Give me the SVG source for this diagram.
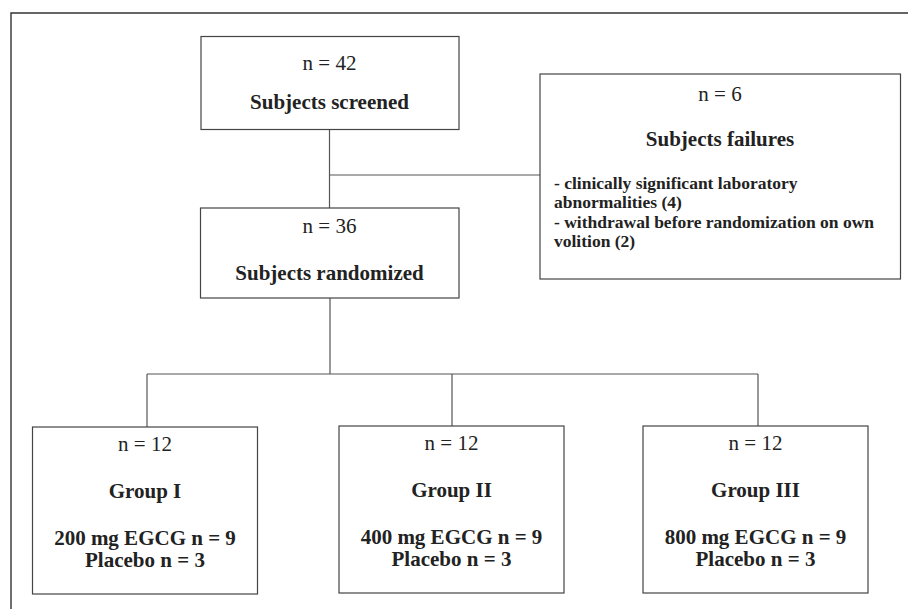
<svg xmlns="http://www.w3.org/2000/svg" width="908" height="609" viewBox="0 0 908 609">
<style>
.box{fill:#fff;stroke:#444;stroke-width:1.2}
.ln{fill:none;stroke:#555;stroke-width:1.2}
.t{font-family:"Liberation Serif","Times New Roman",serif;fill:#222;text-anchor:middle}
.n{font-size:21px}
.b{font-size:21px;font-weight:bold}
.s{font-size:17.5px;font-weight:bold;text-anchor:start}
</style>
<rect width="908" height="609" fill="#fff"/>
<path d="M11 609 V13 H908" fill="none" stroke="#333" stroke-width="1.4"/>
<g id="connectors">
<path class="ln" d="M329.5 129.5 V208"/>
<path class="ln" d="M329.5 175 H540"/>
<path class="ln" d="M330 298 V374"/>
<path class="ln" d="M147 374 H758"/>
<path class="ln" d="M147 374 V427"/>
<path class="ln" d="M452 374 V426"/>
<path class="ln" d="M758 374 V426" stroke="#999"/>
</g>
<g id="screened">
<rect class="box" x="201" y="36.5" width="258" height="93"/>
<text class="t n" x="329.5" y="70">n = 42</text>
<text class="t b" x="329.5" y="109">Subjects screened</text>
</g>
<g id="failures">
<rect class="box" x="540" y="74" width="360.5" height="205"/>
<text class="t n" x="720" y="101">n = 6</text>
<text class="t b" x="720" y="146">Subjects failures</text>
<text class="t s" x="554" y="189">- clinically significant laboratory</text>
<text class="t s" x="554" y="208">abnormalities (4)</text>
<text class="t s" x="554" y="228">- withdrawal before randomization on own</text>
<text class="t s" x="554" y="247">volition (2)</text>
</g>
<g id="randomized">
<rect class="box" x="200.5" y="208" width="258.5" height="90"/>
<text class="t n" x="329.5" y="233">n = 36</text>
<text class="t b" x="329.5" y="280">Subjects randomized</text>
</g>
<g id="group1">
<rect class="box" x="32.5" y="427" width="225" height="167"/>
<text class="t n" x="145" y="451">n = 12</text>
<text class="t b" x="145" y="498">Group I</text>
<text class="t b" x="145" y="545">200 mg EGCG n = 9</text>
<text class="t b" x="145" y="567">Placebo n = 3</text>
</g>
<g id="group2">
<rect class="box" x="339" y="426" width="225" height="167"/>
<text class="t n" x="451.5" y="450">n = 12</text>
<text class="t b" x="451.5" y="497">Group II</text>
<text class="t b" x="451.5" y="544">400 mg EGCG n = 9</text>
<text class="t b" x="451.5" y="566">Placebo n = 3</text>
</g>
<g id="group3">
<rect class="box" x="643" y="426" width="225" height="167"/>
<text class="t n" x="755.5" y="450">n = 12</text>
<text class="t b" x="755.5" y="497">Group III</text>
<text class="t b" x="755.5" y="544">800 mg EGCG n = 9</text>
<text class="t b" x="755.5" y="566">Placebo n = 3</text>
</g>
</svg>
